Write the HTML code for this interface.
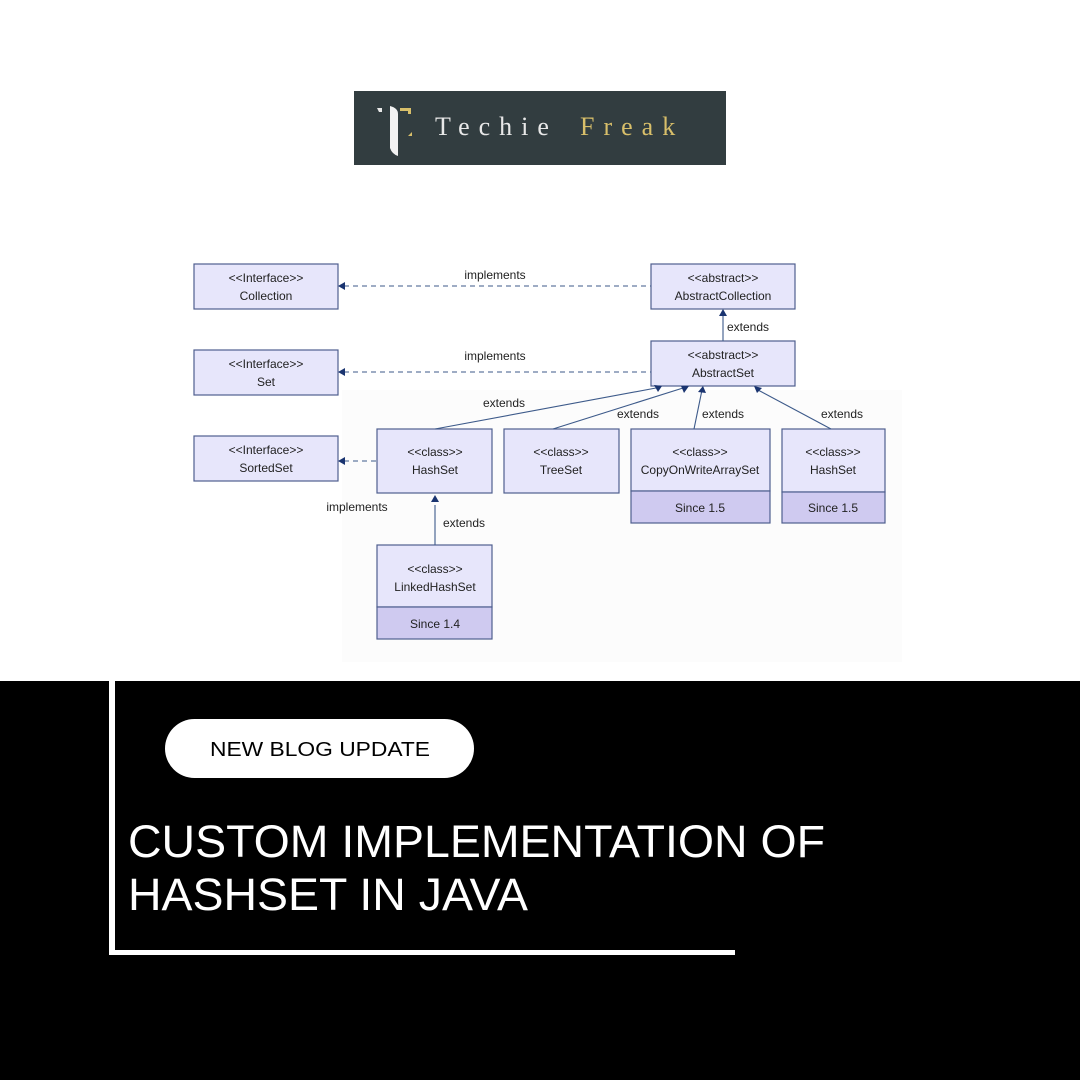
<!DOCTYPE html>
<html><head><meta charset="utf-8"><style>
html,body{margin:0;padding:0;background:#fff}
svg{display:block}
</style></head><body>
<svg width="1080" height="1080" viewBox="0 0 1080 1080" xmlns="http://www.w3.org/2000/svg" font-family="Liberation Sans, DejaVu Sans, sans-serif">
<rect width="1080" height="1080" fill="#fff"/>
<!-- logo -->
<rect x="354" y="91" width="372" height="74" fill="#323d40"/>
<path d="M377 108 h5 v4 h-3 z" fill="#e8e8e8"/>
<path d="M390 106 q8 2 8 8 v42 q-6 -2 -8 -8 z" fill="#f2f2f2"/>
<path d="M400 108 h11 v6 h-3 v-3 h-8 z" fill="#d8bf6a"/>
<path d="M412 132 l-4 4 h4 z" fill="#d8bf6a"/>
<text x="435" y="135" font-family="Liberation Serif, serif" font-size="26" fill="#e8e8e8" letter-spacing="9">Techie</text>
<text x="580" y="135" font-family="Liberation Serif, serif" font-size="26" fill="#d8bf6a" letter-spacing="9">Freak</text>
<!-- diagram bg -->
<rect x="342" y="390" width="560" height="272" fill="#fcfcfc"/>
<g stroke="#4f5f8f" stroke-width="1.2" fill="#e7e6fb">
<rect x="194" y="264" width="144" height="45"/>
<rect x="194" y="350" width="144" height="45"/>
<rect x="194" y="436" width="144" height="45"/>
<rect x="651" y="264" width="144" height="45"/>
<rect x="651" y="341" width="144" height="45"/>
<rect x="377" y="429" width="115" height="64"/>
<rect x="504" y="429" width="115" height="64"/>
<rect x="631" y="429" width="139" height="62"/>
<rect x="631" y="491" width="139" height="32" fill="#cfcaf0"/>
<rect x="782" y="429" width="103" height="63"/>
<rect x="782" y="492" width="103" height="31" fill="#cfcaf0"/>
<rect x="377" y="545" width="115" height="62"/>
<rect x="377" y="607" width="115" height="32" fill="#cfcaf0"/>
</g>
<g stroke="#3d5a8a" stroke-width="1.1" fill="none">
<line x1="344" y1="286" x2="651" y2="286" stroke-dasharray="5,4"/>
<line x1="344" y1="372" x2="651" y2="372" stroke-dasharray="5,4"/>
<line x1="344" y1="461" x2="377" y2="461" stroke-dasharray="5,4"/>
<line x1="723" y1="315" x2="723" y2="341"/>
<line x1="435" y1="429" x2="656" y2="388"/>
<line x1="553" y1="429" x2="683" y2="388"/>
<line x1="694" y1="429" x2="702" y2="390"/>
<line x1="831" y1="429" x2="758" y2="390"/>
<line x1="435" y1="505" x2="435" y2="545"/>
</g>
<g fill="#1a3470">
<path d="M338 286 l7 -4 v8 z"/>
<path d="M338 372 l7 -4 v8 z"/>
<path d="M338 461 l7 -4 v8 z"/>
<path d="M723 309 l-4 7 h8 z"/>
<path d="M662 386 l-8 -1 l4 7 z"/>
<path d="M689 386 l-8 0 l3 7 z"/>
<path d="M703 386 l-5 6 l8 1 z"/>
<path d="M754 386 l3 7 l5 -5 z"/>
<path d="M435 495 l-4 7 h8 z"/>
</g>
<g font-size="12" fill="#222" text-anchor="middle">
<text x="266" y="282">&lt;&lt;Interface&gt;&gt;</text><text x="266" y="300">Collection</text>
<text x="266" y="368">&lt;&lt;Interface&gt;&gt;</text><text x="266" y="386">Set</text>
<text x="266" y="454">&lt;&lt;Interface&gt;&gt;</text><text x="266" y="472">SortedSet</text>
<text x="723" y="282">&lt;&lt;abstract&gt;&gt;</text><text x="723" y="300">AbstractCollection</text>
<text x="723" y="359">&lt;&lt;abstract&gt;&gt;</text><text x="723" y="377">AbstractSet</text>
<text x="435" y="456">&lt;&lt;class&gt;&gt;</text><text x="435" y="474">HashSet</text>
<text x="561" y="456">&lt;&lt;class&gt;&gt;</text><text x="561" y="474">TreeSet</text>
<text x="700" y="456">&lt;&lt;class&gt;&gt;</text><text x="700" y="474">CopyOnWriteArraySet</text>
<text x="700" y="512">Since 1.5</text>
<text x="833" y="456">&lt;&lt;class&gt;&gt;</text><text x="833" y="474">HashSet</text>
<text x="833" y="512">Since 1.5</text>
<text x="435" y="573">&lt;&lt;class&gt;&gt;</text><text x="435" y="591">LinkedHashSet</text>
<text x="435" y="628">Since 1.4</text>
<text x="495" y="279">implements</text>
<text x="495" y="360">implements</text>
<text x="504" y="407">extends</text>
<text x="638" y="418">extends</text>
<text x="723" y="418">extends</text>
<text x="842" y="418">extends</text>
<text x="748" y="331">extends</text>
<text x="357" y="511">implements</text>
<text x="464" y="527">extends</text>
</g>
<!-- bottom -->
<rect x="0" y="681" width="1080" height="399" fill="#000"/>
<rect x="109" y="681" width="6" height="274" fill="#fff"/>
<rect x="109" y="950" width="626" height="5" fill="#fff"/>
<rect x="165" y="719" width="309" height="59" rx="29.5" fill="#fff"/>
<text x="320" y="756" text-anchor="middle" font-size="20" fill="#000" textLength="220" lengthAdjust="spacingAndGlyphs">NEW BLOG UPDATE</text>
<text x="128" y="857" font-size="45" fill="#fff" textLength="697" lengthAdjust="spacingAndGlyphs">CUSTOM IMPLEMENTATION OF</text>
<text x="128" y="910" font-size="45" fill="#fff" textLength="400" lengthAdjust="spacingAndGlyphs">HASHSET IN JAVA</text>
</svg>
</body></html>
